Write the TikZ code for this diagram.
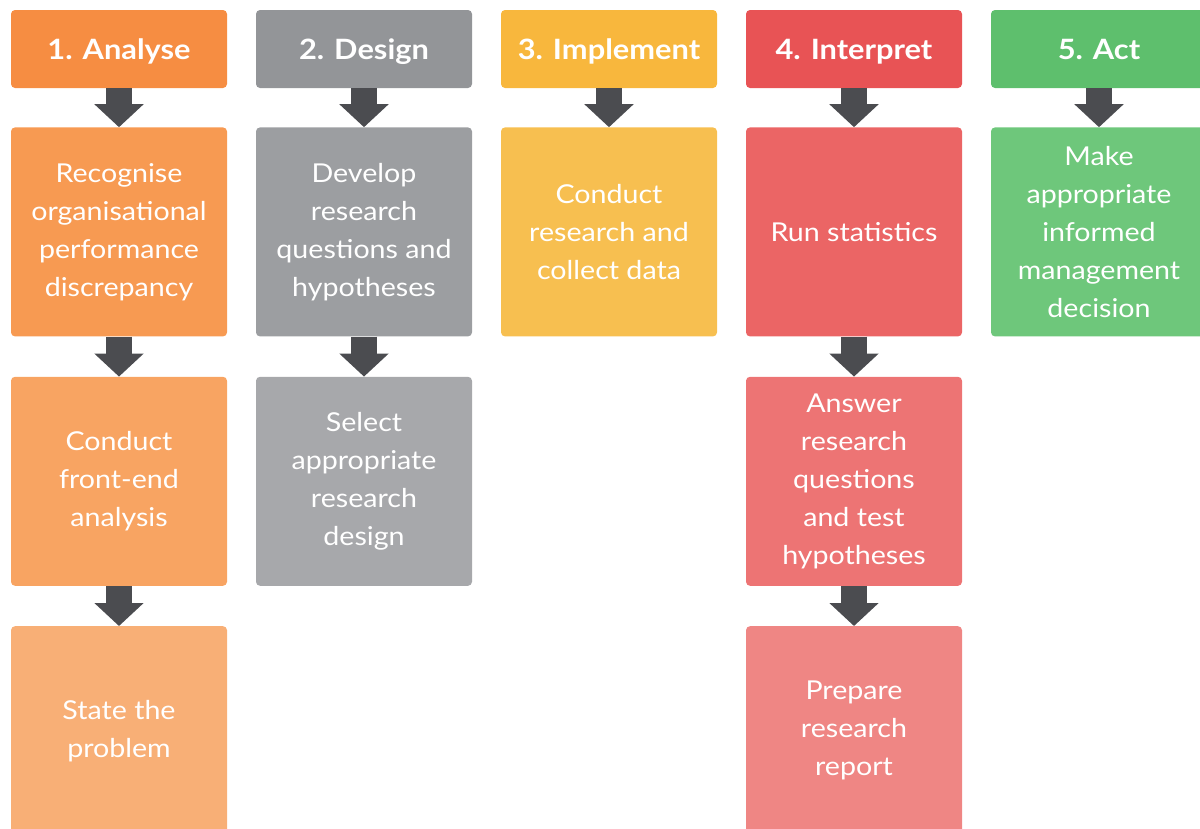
\documentclass[tikz,border=0pt]{standalone}
\usepackage{fontspec}
\setmainfont{Lato}[FakeStretch=1.1]
\usetikzlibrary{positioning,arrows.meta}

\definecolor{orange0}{HTML}{F68D42}
\definecolor{orange1}{HTML}{F79A52}
\definecolor{orange2}{HTML}{F8A462}
\definecolor{orange3}{HTML}{F8AF76}
\definecolor{grey0}{HTML}{939598}
\definecolor{grey1}{HTML}{9C9EA1}
\definecolor{grey2}{HTML}{A7A8AB}
\definecolor{yellow0}{HTML}{F8B73D}
\definecolor{yellow1}{HTML}{F7BF50}
\definecolor{red0}{HTML}{E85355}
\definecolor{red1}{HTML}{EB6565}
\definecolor{red2}{HTML}{ED7474}
\definecolor{red3}{HTML}{EF8684}
\definecolor{green0}{HTML}{5EBF6D}
\definecolor{green1}{HTML}{6EC77B}
\definecolor{arrowgrey}{HTML}{4B4C50}

\begin{document}
\begin{tikzpicture}[x=1pt, y=-1pt,
    card/.style={rectangle, rounded corners=4pt, minimum width=216pt, align=center, text=white, inner sep=0pt},
    head/.style={card, minimum height=78pt, text height=20pt, text depth=0pt, font=\fontsize{28}{34}\selectfont\bfseries},
    task/.style={card, minimum height=209pt, font=\fontsize{26}{38}\selectfont},
    flow/.style={draw=arrowgrey, line width=26pt, -{Triangle[width=48pt, length=23pt]}}]

    % Fix the page size
    \useasboundingbox (0,0) rectangle (1200,828);
    \clip (0,0) rectangle (1200,828);

    % Define the column headers
    \node[head, fill=orange0] (H1) at (119,49) {1. Analyse};
    \node[head, fill=grey0] (H2) at (364,49) {2. Design};
    \node[head, fill=yellow0] (H3) at (609,49) {3. Implement};
    \node[head, fill=red0] (H4) at (854,49) {4. Interpret};
    \node[head, fill=green0] (H5) at (1099,49) {5. Act};

    % Analyse column
    \node[task, fill=orange1, below=39pt of H1] (A1) {Recognise\\organisational\\performance\\discrepancy};
    \node[task, fill=orange2, below=40pt of A1] (A2) {Conduct\\front-end\\analysis};
    \node[task, fill=orange3, below=40pt of A2] (A3) {State the\\problem};

    % Design column
    \node[task, fill=grey1, below=39pt of H2] (D1) {Develop\\research\\questions and\\hypotheses};
    \node[task, fill=grey2, below=40pt of D1] (D2) {Select\\appropriate\\research\\design};

    % Implement column
    \node[task, fill=yellow1, below=39pt of H3] (I1) {Conduct\\research and\\collect data};

    % Interpret column
    \node[task, fill=red1, below=39pt of H4] (R1) {Run statistics};
    \node[task, fill=red2, below=40pt of R1] (R2) {Answer\\research\\questions\\and test\\hypotheses};
    \node[task, fill=red3, below=40pt of R2] (R3) {Prepare\\research\\report};

    % Act column
    \node[task, fill=green1, below=39pt of H5] (M1) {Make\\appropriate\\informed\\management\\decision};

    % Draw the arrows between the boxes
    \foreach \a/\b in {H1/A1, A1/A2, A2/A3, H2/D1, D1/D2, H3/I1, H4/R1, R1/R2, R2/R3, H5/M1}
        \draw[flow] (\a.south) -- (\b.north);

\end{tikzpicture}
\end{document}
